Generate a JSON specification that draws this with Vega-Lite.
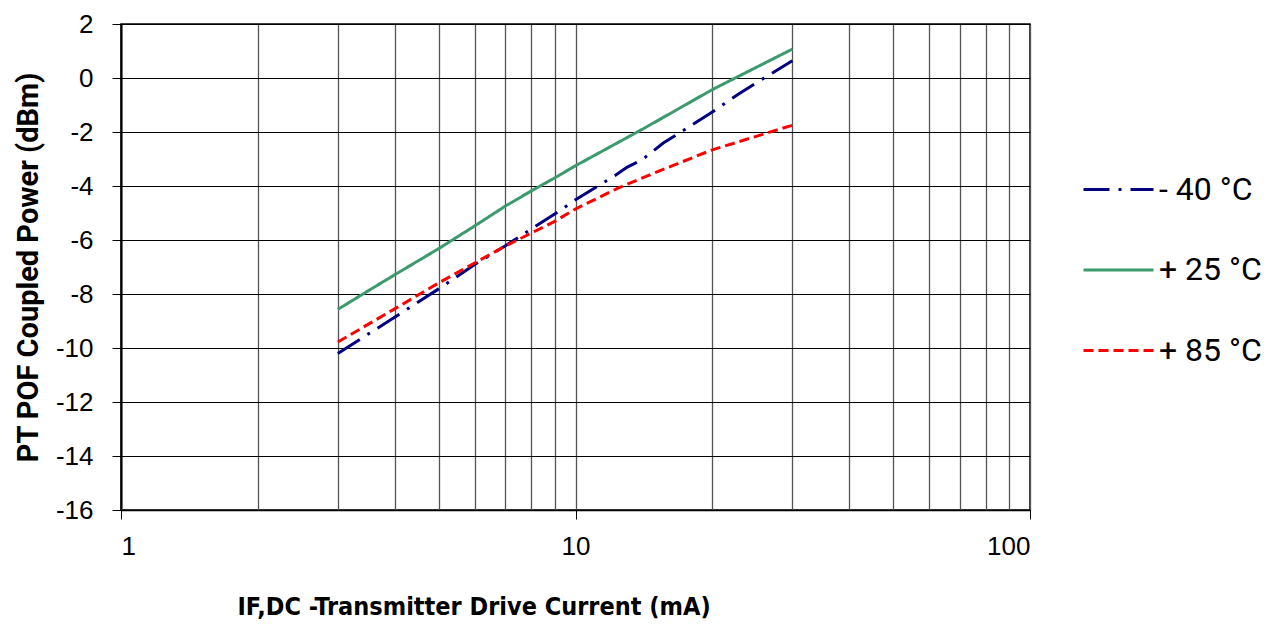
{
  "$schema": "https://vega.github.io/schema/vega-lite/v6.json",
  "autosize": {"type": "none"},
  "width": 909,
  "height": 486,
  "padding": {"left": 121, "top": 24, "right": 248, "bottom": 117},
  "background": "white",
  "config": {
    "view": {"stroke": "#000000", "strokeWidth": 1.5},
    "axis": {"labelFont": "Liberation Sans", "labelColor": "#000", "titleColor": "#000", "domainColor": "#000", "tickColor": "#000"}
  },
  "data": {
    "values": [
      {"series": "- 40 °C", "current": 3, "power": -10.2},
      {"series": "- 40 °C", "current": 4, "power": -8.86},
      {"series": "- 40 °C", "current": 5, "power": -7.81},
      {"series": "- 40 °C", "current": 6, "power": -6.91},
      {"series": "- 40 °C", "current": 7, "power": -6.22},
      {"series": "- 40 °C", "current": 8, "power": -5.59},
      {"series": "- 40 °C", "current": 9, "power": -5.04},
      {"series": "- 40 °C", "current": 10, "power": -4.51},
      {"series": "- 40 °C", "current": 12.2, "power": -3.62},
      {"series": "- 40 °C", "current": 13, "power": -3.3},
      {"series": "- 40 °C", "current": 14, "power": -3.03},
      {"series": "- 40 °C", "current": 15.6, "power": -2.41},
      {"series": "- 40 °C", "current": 16.7, "power": -2.1},
      {"series": "- 40 °C", "current": 20, "power": -1.26},
      {"series": "- 40 °C", "current": 22.9, "power": -0.58},
      {"series": "- 40 °C", "current": 26, "power": 0.0},
      {"series": "- 40 °C", "current": 30, "power": 0.64},
      {"series": "+ 25 °C", "current": 3, "power": -8.57},
      {"series": "+ 25 °C", "current": 3.5, "power": -7.88},
      {"series": "+ 25 °C", "current": 4, "power": -7.29},
      {"series": "+ 25 °C", "current": 5, "power": -6.32},
      {"series": "+ 25 °C", "current": 6, "power": -5.48},
      {"series": "+ 25 °C", "current": 7, "power": -4.75},
      {"series": "+ 25 °C", "current": 8, "power": -4.18},
      {"series": "+ 25 °C", "current": 9, "power": -3.7},
      {"series": "+ 25 °C", "current": 10, "power": -3.25},
      {"series": "+ 25 °C", "current": 14.2, "power": -1.85},
      {"series": "+ 25 °C", "current": 20, "power": -0.43},
      {"series": "+ 25 °C", "current": 30, "power": 1.07},
      {"series": "+ 85 °C", "current": 3, "power": -9.78},
      {"series": "+ 85 °C", "current": 4, "power": -8.55},
      {"series": "+ 85 °C", "current": 5, "power": -7.59},
      {"series": "+ 85 °C", "current": 6, "power": -6.85},
      {"series": "+ 85 °C", "current": 7, "power": -6.23},
      {"series": "+ 85 °C", "current": 8, "power": -5.74},
      {"series": "+ 85 °C", "current": 9, "power": -5.31},
      {"series": "+ 85 °C", "current": 10, "power": -4.85},
      {"series": "+ 85 °C", "current": 12.4, "power": -4.08},
      {"series": "+ 85 °C", "current": 15.5, "power": -3.4},
      {"series": "+ 85 °C", "current": 20, "power": -2.66},
      {"series": "+ 85 °C", "current": 30, "power": -1.75}
    ]
  },
  "mark": {"type": "line", "strokeWidth": 3, "clip": true},
  "encoding": {
    "x": {
      "field": "current", "type": "quantitative",
      "scale": {"type": "log", "domain": [1, 100], "nice": false},
      "axis": {
        "values": [1, 2, 3, 4, 5, 6, 7, 8, 9, 10, 20, 30, 40, 50, 60, 70, 80, 90, 100],
        "labelExpr": "(datum.value == 1 || datum.value == 10 || datum.value == 100) ? toString(datum.value) : ''",
        "labelOverlap": false,
        "labelFontSize": 26,
        "labelPadding": 14,
        "tickSize": 9,
        "tickOpacity": {"condition": {"test": "datum.value == 1 || datum.value == 10 || datum.value == 100", "value": 1}, "value": 0},
        "grid": true,
        "gridColor": "#555555",
        "gridWidth": 1.3,
        "gridOpacity": 1,
        "domainWidth": 1.5,
        "title": "IF,DC -Transmitter Drive Current (mA)",
        "titleFont": "DejaVu Sans Condensed",
        "titleFontSize": 25,
        "titleFontWeight": "bold",
        "titleAnchor": "start",
        "titleAlign": "left",
        "titleBaseline": "middle",
        "titleX": 116,
        "titleY": 96
      }
    },
    "y": {
      "field": "power", "type": "quantitative",
      "scale": {"domain": [-16, 2], "nice": false},
      "axis": {
        "values": [-16, -14, -12, -10, -8, -6, -4, -2, 0, 2],
        "labelExpr": "toString(datum.value)",
        "labelFontSize": 26,
        "labelPadding": 19,
        "tickSize": 9,
        "grid": true,
        "gridColor": "#000000",
        "gridWidth": 1,
        "gridOpacity": 1,
        "domainWidth": 2,
        "title": "PT  POF Coupled Power (dBm)",
        "titleFont": "Roboto",
        "titleFontSize": 29,
        "titleFontWeight": "bold",
        "titlePadding": 12
      }
    },
    "color": {
      "field": "series", "type": "nominal",
      "scale": {"domain": ["- 40 °C", "+ 25 °C", "+ 85 °C"], "range": ["#000080", "#3C9A6C", "#FF0000"]},
      "legend": {
        "title": null,
        "orient": "none",
        "legendX": 961,
        "legendY": 129,
        "symbolType": "stroke",
        "symbolSize": 4900,
        "symbolStrokeWidth": 3,
        "labelFont": "Roboto",
        "labelFontSize": 32,
        "labelColor": "#000",
        "labelOffset": 4,
        "rowPadding": 27.5
      }
    },
    "strokeDash": {
      "field": "series", "type": "nominal",
      "scale": {"domain": ["- 40 °C", "+ 25 °C", "+ 85 °C"], "range": [[26, 9, 3, 9], [1, 0], [10, 5]]},
      "legend": null
    }
  }
}
